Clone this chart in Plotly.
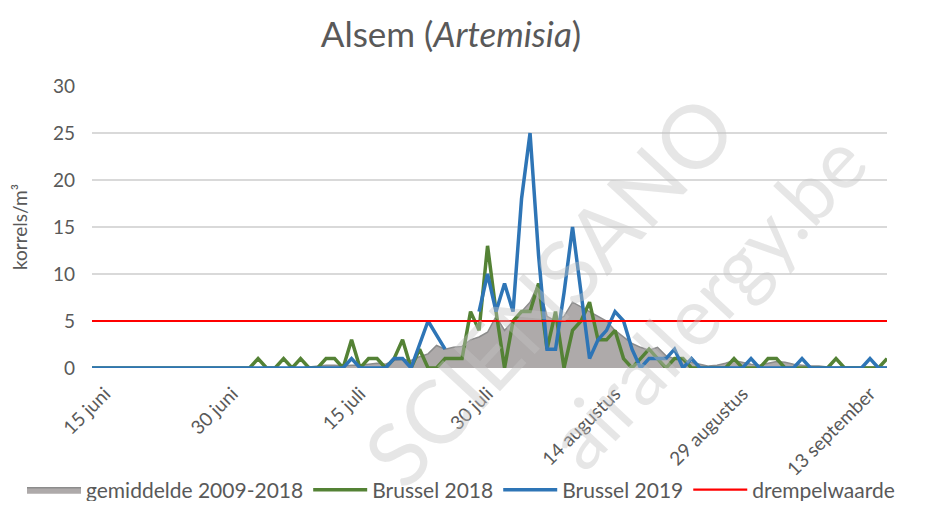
import plotly.graph_objects as go
import pandas as pd

# Days from 13 June to 15 September
dates = pd.date_range("2019-06-13", "2019-09-15", freq="D")

# gemiddelde 2009-2018 (grey area)
gemiddelde = [0]*26 + [
    0.1, 0.2, 0.3, 0.3, 0.2, 0.3, 0.3, 0.4, 0.5, 0.4,   # d26-35
    0.8, 0.9, 0.8, 1.2, 1.5, 2.4, 2.0, 2.2, 2.3, 3.0,   # d36-45
    3.3, 3.8, 5.5, 4.0, 5.0, 6.0, 7.0, 9.0, 5.5, 5.0,   # d46-55
    5.5, 7.0, 6.5, 6.0, 5.5, 5.0, 4.0, 3.3, 2.6, 2.2,   # d56-65
    1.9, 2.2, 1.3, 1.0, 0.8, 0.6, 0.4, 0.2, 0.3, 0.5,   # d66-75
    0.8, 0.6, 0.4, 0.3, 0.5, 0.7, 0.6, 0.4, 0.3, 0.2,   # d76-85
    0.2, 0.1, 0.1, 0.1, 0.1, 0.1, 0.1, 0.1, 0.1          # d86-94
]

# Brussel 2018 (green)
brussel_2018 = [0]*20 + [
    1, 0, 0, 1, 0, 1, 0, 0, 1, 1,      # d20-29
    0, 3, 0, 1, 1, 0, 1, 3, 0, 2,      # d30-39
    0, 0, 1, 1, 1, 6, 4, 13, 6, 0,     # d40-49
    5, 6, 6, 9, 2, 6, 0, 4, 5, 7,      # d50-59
    3, 3, 4, 1, 0, 1, 2, 1, 0, 1,      # d60-69
    1, 0, 0, 0, 0, 0, 1, 0, 0, 0,      # d70-79
    1, 1, 0, 0, 0, 0, 0, 0, 1, 0,      # d80-89
    0, 0, 0, 0, 1                      # d90-94
]

# Brussel 2019 (blue); None = no measurement
brussel_2019 = [0]*31 + [
    1, 0, 0, 0, 0, 1, 1, 0, 2.5,              # d31-39
    5, 3.5, 2, None, None, None, 6, 10, 6, 9, # d40-49
    6, 18, 25, 12, 2, 2, 8, 15, 8, 1,         # d50-59
    3, 4, 6, 5, 2, 0, 1, 1, 1, 2,             # d60-69
    0, 1, 0, 0, 0, 0, 0, 0, 1, 0,             # d70-79
    0, 0, 0, 0, 1, 0, 0, 0, 0, 0,             # d80-89
    0, 0, 1, 0, 0                             # d90-94
]

drempel = [5, 5]
drempel_dates = [dates[0], dates[-1]]

tick_dates = ["2019-06-15", "2019-06-30", "2019-07-15", "2019-07-30",
              "2019-08-14", "2019-08-29", "2019-09-13"]
tick_labels = ["15 juni", "30 juni", "15 juli", "30 juli",
               "14 augustus", "29 augustus", "13 september"]

FONT = "Lato"
TXT = "#595959"
OFF = 8                      # page body margin
W, H = 928 - 2 * OFF, 509 - 2 * OFF
L, T = 92 - OFF, 86 - OFF
R = W - (887 - OFF)
B = H - (368 - OFF)
PW, PH = W - L - R, H - T - B


def px(x):                   # page x -> paper x
    return (x - OFF - L) / PW


def py(y):                   # page y -> paper y
    return (H - B - (y - OFF)) / PH


fig = go.Figure()
fig.add_trace(go.Scatter(
    x=dates, y=gemiddelde, name="gemiddelde 2009-2018", mode="lines",
    fill="tozeroy", fillcolor="#AEAAAA",
    line=dict(color="#8C8C8C", width=1.5)))
fig.add_trace(go.Scatter(
    x=dates, y=brussel_2018, name="Brussel 2018", mode="lines",
    line=dict(color="#548235", width=3.5)))
fig.add_trace(go.Scatter(
    x=dates, y=brussel_2019, name="Brussel 2019", mode="lines",
    line=dict(color="#2E75B6", width=3.5), connectgaps=False))
fig.add_trace(go.Scatter(
    x=drempel_dates, y=drempel, name="drempelwaarde", mode="lines",
    line=dict(color="#FF0000", width=2.2)))

fig.update_layout(
    width=W, height=H,
    margin=dict(l=L, r=R, t=T, b=B, autoexpand=False),
    paper_bgcolor="white", plot_bgcolor="white",
    font=dict(family=FONT, color=TXT, size=19),
    title=dict(text="Alsem (<i>Artemisia</i>)", x=(451 - OFF) / W, xref="container",
               y=1 - (35 - OFF) / H, yref="container", xanchor="center",
               yanchor="middle", font=dict(size=35, color=TXT, family=FONT)),
    showlegend=True,
    legend=dict(orientation="h", x=px(22), xanchor="left", y=py(490),
                yanchor="middle", font=dict(size=21, color=TXT, family=FONT),
                traceorder="normal", itemwidth=54, bgcolor="rgba(0,0,0,0)"),
)

fig.update_xaxes(
    range=["2019-06-13 11:00", "2019-09-15"],
    tickvals=tick_dates, ticktext=tick_labels, tickangle=-45,
    showgrid=False, zeroline=False, showline=False, ticks="",
    tickfont=dict(size=19, color=TXT, family=FONT), automargin=False,
    ticklabelstandoff=10,
)
fig.update_yaxes(
    range=[0, 30], dtick=5, tick0=0,
    showgrid=True, gridcolor="#D9D9D9", gridwidth=1.5,
    zeroline=False, showline=False, ticks="",
    tickfont=dict(size=19, color=TXT, family=FONT),
    ticklabelstandoff=16, automargin=False,
    title=dict(text="korrels/m³", font=dict(size=19, color=TXT, family=FONT),
               standoff=20),
)

# watermark (kept fully inside the picture)
WM = "rgba(195,195,195,0.42)"
fig.add_annotation(text="SCIENSANO", xref="paper", yref="paper",
                   x=px(548), y=py(290), xanchor="center", yanchor="middle",
                   showarrow=False, textangle=-47,
                   font=dict(size=88, color=WM, family=FONT))
fig.add_annotation(text="airallergy.be", xref="paper", yref="paper",
                   x=px(705), y=py(300), xanchor="center", yanchor="middle",
                   showarrow=False, textangle=-47,
                   font=dict(size=80, color=WM, family=FONT))

fig.write_html("out.html")
